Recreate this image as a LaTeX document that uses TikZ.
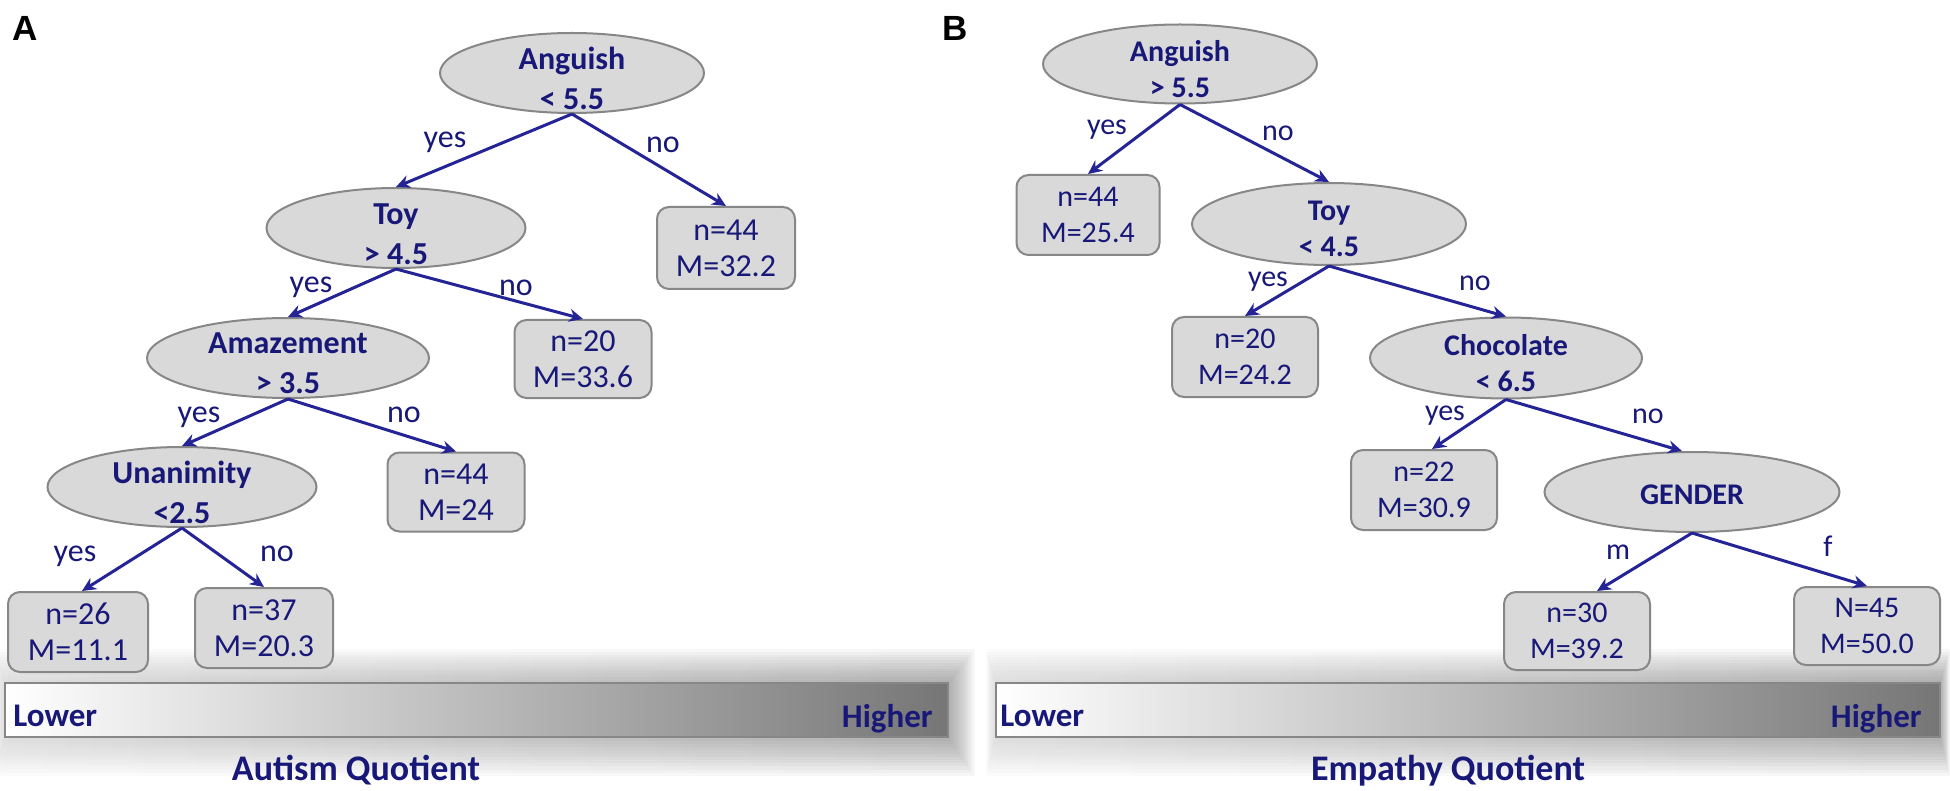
\documentclass[tikz,border=0pt]{standalone}
\usepackage{fontspec}
\setmainfont{Carlito}
\newfontfamily\panelfont{Liberation Sans}
\usetikzlibrary{shapes.geometric,arrows.meta}
\definecolor{txtblue}{RGB}{24,24,120}
\definecolor{arrblue}{RGB}{36,36,150}
\definecolor{nodegray}{RGB}{217,217,217}
\definecolor{bordergray}{RGB}{135,135,135}
\definecolor{bardark}{RGB}{118,118,118}
\definecolor{halolight}{RGB}{200,200,200}
\definecolor{halodark}{RGB}{110,110,110}
\begin{document}
\begin{tikzpicture}[x=0.5pt,y=-0.5pt,
  dec/.style={ellipse, draw=bordergray, fill=nodegray, line width=1pt, inner sep=0pt},
  dectxt/.style={text=txtblue, font=\bfseries\fontsize{16}{20}\selectfont, align=center, inner sep=0pt},
  dectxtb/.style={text=txtblue, font=\bfseries\fontsize{15}{18}\selectfont, align=center, inner sep=0pt},
  leaf/.style={rectangle, rounded corners=6pt, draw=bordergray, fill=nodegray, line width=1pt, text=txtblue, font=\fontsize{16}{18}\selectfont, align=center, inner sep=0pt},
  leafb/.style={leaf, font=\fontsize{15}{18}\selectfont},
  lbl/.style={text=txtblue, font=\fontsize{16}{18}\selectfont, inner sep=0pt},
  lblb/.style={lbl, font=\fontsize{15}{18}\selectfont},
  conn/.style={draw=arrblue, line width=1.5pt, -{Stealth[length=7pt,width=6.5pt]}},
  scaletxt/.style={text=txtblue, font=\bfseries\fontsize{16.5}{18}\selectfont, inner sep=0pt},
  titletxt/.style={text=txtblue, font=\bfseries\fontsize{18}{20}\selectfont, inner sep=0pt},
  halo/.style={left color=halolight, right color=halodark, opacity=0.06}
]
\useasboundingbox (0,0) rectangle (1950,791);
\fill[white] (0,0) rectangle (1950,791);

% panel letters
\node[anchor=base, font=\panelfont\bfseries\fontsize{17.5}{20}\selectfont, inner sep=0pt] (labA) at (25,41) {A};
\node[anchor=base, font=\panelfont\bfseries\fontsize{17.5}{20}\selectfont, inner sep=0pt] (labB) at (955,41) {B};

% ---------- scale bars (soft halo first) ----------
\foreach \i in {1,...,12} {
  \shade[halo] (5-\i*0.8,683-\i*2.8) rectangle (948+\i*2.2,737+\i*3.2);
  \shade[halo] (996-\i*0.8,683-\i*2.8) rectangle (1940+\i*0.8,737+\i*3.2);
}
\shade[left color=white, right color=bardark] (5,683) rectangle (948,737);
\draw[bordergray, line width=1pt] (5,683) rectangle (948,737);
\shade[left color=white, right color=bardark] (996,683) rectangle (1940,737);
\draw[bordergray, line width=1pt] (996,683) rectangle (1940,737);

% ---------- Panel A ----------
\node[dec, minimum width=132pt, minimum height=40pt] (aAng) at (572,73) {};
\node[dectxt] (aAngT) at (572,78) {Anguish\\< 5.5};
\node[dec, minimum width=129.5pt, minimum height=40pt] (aToy) at (396,228) {};
\node[dectxt] (aToyT) at (396,234) {Toy\\> 4.5};
\node[dec, minimum width=141pt, minimum height=40pt] (aAma) at (288,358) {};
\node[dectxt] (aAmaT) at (288,363) {Amazement\\> 3.5};
\node[dec, minimum width=134.5pt, minimum height=40pt] (aUna) at (182,487) {};
\node[dectxt] (aUnaT) at (182,492) {Unanimity\\<2.5};

\node[leaf, minimum width=69pt, minimum height=41pt] (aL1) at (726,248) {n=44\\M=32.2};
\node[leaf, minimum width=68.5pt, minimum height=39pt] (aL2) at (583,359) {n=20\\M=33.6};
\node[leaf, minimum width=68.5pt, minimum height=39.5pt] (aL3) at (456,492) {n=44\\M=24};
\node[leaf, minimum width=70pt, minimum height=40pt] (aL4) at (78,632) {n=26\\M=11.1};
\node[leaf, minimum width=69pt, minimum height=40pt] (aL5) at (264,628) {n=37\\M=20.3};

\draw[conn] (aAng.south) -- (aToy.north);
\draw[conn] (aAng.south) -- (aL1.north);
\draw[conn] (aToy.south) -- (aAma.north);
\draw[conn] (aToy.south) -- (aL2.north);
\draw[conn] (aAma.south) -- (aUna.north);
\draw[conn] (aAma.south) -- (aL3.north);
\draw[conn] (aUna.south) -- ([xshift=2pt]aL4.north);
\draw[conn] (aUna.south) -- (aL5.north);

\node[lbl] (aY1) at (445,142) {yes};
\node[lbl] (aN1) at (663,145) {no};
\node[lbl] (aY2) at (311,287) {yes};
\node[lbl] (aN2) at (516,288) {no};
\node[lbl] (aY3) at (199,417) {yes};
\node[lbl] (aN3) at (404,415) {no};
\node[lbl] (aY4) at (75,556) {yes};
\node[lbl] (aN4) at (277,554) {no};

% ---------- Panel B ----------
\node[dec, minimum width=137pt, minimum height=39.5pt] (bAng) at (1180,64) {};
\node[dectxtb] (bAngT) at (1180,69) {Anguish\\> 5.5};
\node[dec, minimum width=137pt, minimum height=41pt] (bToy) at (1329,224) {};
\node[dectxtb] (bToyT) at (1329,229) {Toy\\< 4.5};
\node[dec, minimum width=136pt, minimum height=40.5pt] (bCho) at (1506,358) {};
\node[dectxtb] (bChoT) at (1506,363) {Chocolate\\< 6.5};
\node[dec, minimum width=147.5pt, minimum height=40pt] (bGen) at (1692,492) {};
\node[dectxtb] (bGenT) at (1692,495) {GENDER};

\node[leafb, minimum width=71.5pt, minimum height=40pt] (bL1) at (1088,215) {n=44\\M=25.4};
\node[leafb, minimum width=73pt, minimum height=40pt] (bL2) at (1245,357) {n=20\\M=24.2};
\node[leafb, minimum width=73pt, minimum height=40pt] (bL3) at (1424,490) {n=22\\M=30.9};
\node[leafb, minimum width=73pt, minimum height=39pt] (bL4) at (1577,631) {n=30\\M=39.2};
\node[leafb, minimum width=73pt, minimum height=39pt] (bL5) at (1867,626) {N=45\\M=50.0};

\draw[conn] (bAng.south) -- (bL1.north);
\draw[conn] (bAng.south) -- (bToy.north);
\draw[conn] (bToy.south) -- (bL2.north);
\draw[conn] (bToy.south) -- (bCho.north);
\draw[conn] (bCho.south) -- ([xshift=4pt]bL3.north);
\draw[conn] (bCho.south) -- ([xshift=-5pt]bGen.north);
\draw[conn] (bGen.south) -- ([xshift=10pt]bL4.north);
\draw[conn] (bGen.south) -- (bL5.north);

\node[lblb] (bY1) at (1107,130) {yes};
\node[lblb] (bN1) at (1278,133) {no};
\node[lblb] (bY2) at (1268,282) {yes};
\node[lblb] (bN2) at (1475,283) {no};
\node[lblb] (bY3) at (1445,416) {yes};
\node[lblb] (bN3) at (1648,416) {no};
\node[lblb] (bM) at (1618,552) {m};
\node[lblb] (bF) at (1828,546) {f};

\node[scaletxt, anchor=base west] (aLow) at (13,726) {Lower};
\node[scaletxt, anchor=base east] (aHigh) at (933,727) {Higher};
\node[scaletxt, anchor=base west] (bLow) at (1000,726) {Lower};
\node[scaletxt, anchor=base east] (bHigh) at (1922,727) {Higher};

\node[titletxt, anchor=base] (aTitle) at (356,780) {Autism Quotient};
\node[titletxt, anchor=base] (bTitle) at (1448,780) {Empathy Quotient};
\end{tikzpicture}
\end{document}
